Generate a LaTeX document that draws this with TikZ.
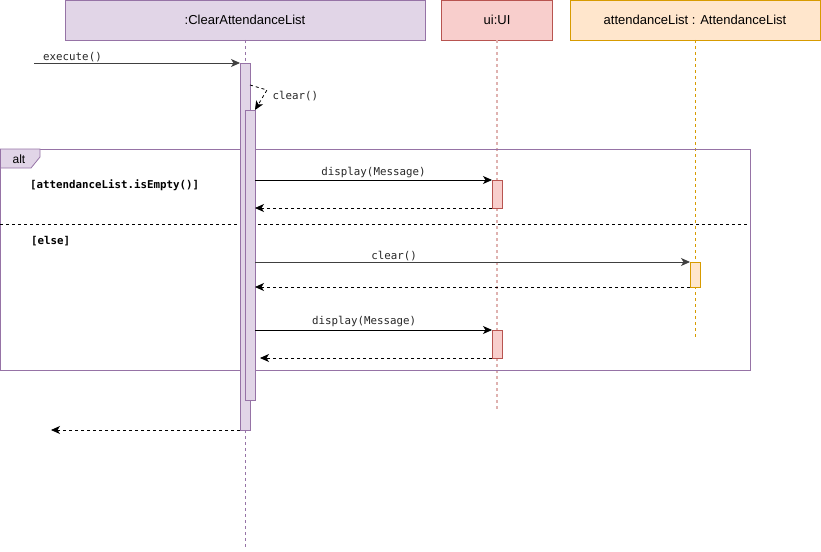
\documentclass[tikz,border=0pt]{standalone}
\usepackage{fontspec}
\setmainfont{Liberation Sans}
\setmonofont{DejaVu Sans Mono}
\usetikzlibrary{arrows.meta}
\definecolor{clsfill}{HTML}{E1D5E7}
\definecolor{clsline}{HTML}{9673A6}
\definecolor{uifill}{HTML}{F8CECC}
\definecolor{uiline}{HTML}{B85450}
\definecolor{lstfill}{HTML}{FFE6CC}
\definecolor{lstline}{HTML}{D79B00}
\begin{document}
\begin{tikzpicture}[x=1pt,y=-1pt,
  every node/.style={inner sep=0pt, outer sep=0pt},
  header/.style={draw, line width=0.8pt, minimum height=40pt,
    font=\fontsize{13}{15}\selectfont},
  actbar/.style={draw, line width=0.8pt, minimum width=10pt, anchor=north},
  msg/.style={line width=0.8pt, -{Stealth[length=9pt,width=8pt,inset=2.5pt]}},
  ret/.style={msg, dash pattern=on 3pt off 3pt},
  lbl/.style={font=\ttfamily\fontsize{10.8}{12}\selectfont, text=black!85, inner sep=2.5pt},
  guard/.style={font=\ttfamily\bfseries\fontsize{10.8}{12}\selectfont, anchor=west},
  life/.style={line width=0.8pt, dash pattern=on 3pt off 3pt}]
  \useasboundingbox (0,0) rectangle (821,551);
  % participants
  \node[header, fill=clsfill, draw=clsline, minimum width=360pt] (cal) at (245,20) {:ClearAttendanceList};
  \node[header, fill=uifill, draw=uiline, minimum width=111pt] (ui) at (497,20) {ui:UI};
  \node[header, fill=lstfill, draw=lstline, minimum width=250pt] (lst) at (695,20) {attendanceList : AttendanceList};
  \coordinate (calend) at (245,548);
  \coordinate (uiend) at (497,409);
  \coordinate (lstend) at (695,337);
  \draw[life, clsline] (cal) -- (calend);
  \draw[life, uiline!45, line width=1.6pt] (ui) -- (uiend);
  \draw[life, lstline] (lst) -- (lstend);
  % alt fragment
  \node[draw=clsline, line width=0.8pt, minimum width=749.5pt, minimum height=221pt, anchor=north west] (altframe) at (0.4,149) {};
  \draw[fill=clsfill, draw=clsline, line width=0.8pt] (0.4,149) -- (40,149) -- (40,157) -- (31,168) -- (0.4,168) -- cycle;
  \node[font=\fontsize{12}{14}\selectfont] (alttag) at (19,159) {alt};
  \draw[dash pattern=on 3pt off 3pt, line width=0.8pt] (altframe.west |- 0,224) -- (altframe.east |- 0,224);
  \node[guard] (ifempty) at (30,185) {[attendanceList.isEmpty()]};
  \node[guard] (otherwise) at (31,241) {[else]};
  % activations
  \node[actbar, fill=clsfill, draw=clsline, minimum height=367pt] (act) at (245,63) {};
  \node[actbar, fill=clsfill, draw=clsline, minimum height=290pt] (nest) at (250,110) {};
  \node[actbar, fill=uifill, draw=uiline, minimum height=28pt] (uione) at (497,180) {};
  \node[actbar, fill=lstfill, draw=lstline, minimum height=25pt] (lstact) at (695,262) {};
  \node[actbar, fill=uifill, draw=uiline, minimum height=28pt] (uitwo) at (497,330) {};
  % messages
  \coordinate (caller) at (34,63);
  \coordinate (back) at (51,430);
  \draw[msg, black!75] (caller) -- (act.north west)
    node[lbl, pos=0.04, above right, inner sep=1pt] {execute()};
  \draw[ret] (act.east |- 0,85) -- (267,90) -- (nest.north east);
  \node[lbl, anchor=west] (selfclear) at (270,96) {clear()};
  \draw[msg] (nest.east |- uione.north) -- (uione.north west)
    node[lbl, midway, above] {display(Message)};
  \draw[ret] (uione.south west) -- (nest.east |- uione.south);
  \draw[msg, black!75] (nest.east |- lstact.north) -- (lstact.north west)
    node[lbl, pos=0.32, above, inner sep=1pt] {clear()};
  \draw[ret] (lstact.south west) -- (nest.east |- lstact.south);
  \draw[msg] (nest.east |- uitwo.north) -- (uitwo.north west)
    node[lbl, pos=0.46, above, inner sep=3pt] {display(Message)};
  \draw[ret, shorten >=5pt] (uitwo.south west) -- (nest.east |- uitwo.south);
  \draw[ret] (act.south west) -- (back);
\end{tikzpicture}
\end{document}
